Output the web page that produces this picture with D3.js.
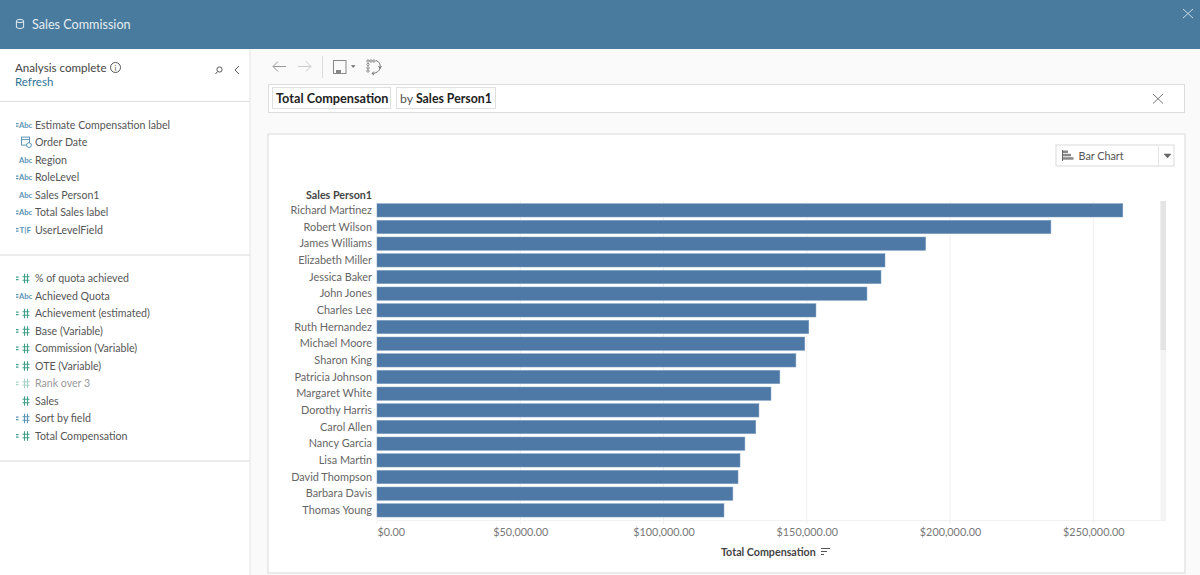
<!DOCTYPE html>
<html><head><meta charset="utf-8">
<script src="https://cdn.jsdelivr.net/npm/d3@7/dist/d3.min.js"></script>
<style>html,body{margin:0;padding:0;background:#fafafa;overflow:hidden}svg{display:block}text{font-family:Lato,"Open Sans",sans-serif}</style>
</head><body><svg id="c" width="1200" height="575"></svg>
<script>
const people=["Richard Martinez","Robert Wilson","James Williams","Elizabeth Miller","Jessica Baker","John Jones","Charles Lee","Ruth Hernandez","Michael Moore","Sharon King","Patricia Johnson","Margaret White","Dorothy Harris","Carol Allen","Nancy Garcia","Lisa Martin","David Thompson","Barbara Davis","Thomas Young"];
const compensation=[260300,235200,191500,177300,175900,171000,153200,150700,149300,146200,140600,137500,133300,132200,128400,126700,126000,124200,121100];
const ticks=[0,50000,100000,150000,200000,250000];
const dimensionFields=["Estimate Compensation label","Order Date","Region","RoleLevel","Sales Person1","Total Sales label","UserLevelField"];
const dimensionIcons=["=Abc","date","Abc","=Abc","Abc","=Abc","=T|F"];
const measureFields=["% of quota achieved","Achieved Quota","Achievement (estimated)","Base (Variable)","Commission (Variable)","OTE (Variable)","Rank over 3","Sales","Sort by field","Total Compensation"];
const measureIcons=["=#","=Abc","=#","=#","=#","=#","=#","#","=b#","=#"];

const svg=d3.select("#c");
const R=(x,y,w,h,f,s)=>svg.append("rect").attr("x",x).attr("y",y).attr("width",w).attr("height",h).attr("fill",f).attr("stroke",s||"none");
const T=(x,y,t,size,fill,weight,anchor)=>svg.append("text").attr("x",x).attr("y",y).text(t).attr("font-size",size).attr("fill",fill).attr("font-weight",weight||400).attr("text-anchor",anchor||"start");
const P=(d,s,w,f)=>svg.append("path").attr("d",d).attr("stroke",s).attr("stroke-width",w||1).attr("fill",f||"none");

// page frame
R(0,0,1200,575,"#fafafa");
R(0,0,1200,49,"#487b9d");
R(0,49,250,526,"#ffffff");
P("M250 49V575","#e4e4e4");
P("M0 101.5H250","#e0e0e0");
P("M0 255H250","#e6e6e6",1.5);
P("M0 461H250","#e6e6e6",1.5);

// header
T(32,28.5,"Sales Commission",12.6,"#e6eef3");
svg.append("ellipse").attr("cx",20).attr("cy",21).attr("rx",3.6).attr("ry",1.6).attr("fill","none").attr("stroke","#e6eef3");
P("M16.4 21V27.5Q20 30 23.6 27.5V21","#e6eef3");
P("M1183 9L1193 18M1193 9L1183 18","#c9dbe6");

// side panel
T(15,72,"Analysis complete",11.6,"#444");
svg.append("circle").attr("cx",115.5).attr("cy",67.5).attr("r",5).attr("fill","none").attr("stroke","#555");
T(115.5,70.5,"i",8,"#555",400,"middle");
T(15,86,"Refresh",11.5,"#2e7397");
svg.append("circle").attr("cx",219.5).attr("cy",69.5).attr("r",2.6).attr("fill","none").attr("stroke","#555");
P("M217.5 71.5L215.5 74","#555");
P("M239 66L235 70L239 74","#555");

function fieldIcon(kind,y,faded){
  const blue=faded?"#a9c6d6":"#5b93b5", green=faded?"#a5d3c8":"#3f9f8a";
  if(kind==="date"){
    R(21.5,y-5,8,8,"none","#5b93b5"); P(`M21.5 ${y-2.5}H29.5`,"#5b93b5");
    svg.append("circle").attr("cx",29).attr("cy",y+3).attr("r",2.4).attr("fill","#fff").attr("stroke","#5b93b5");
    return;
  }
  const calc=kind[0]==="=", bl=kind[1]==="b", core=kind.replace(/^=b?/,"");
  const mc=bl?blue:green;
  if(calc) P(`M16 ${y-1}H18.5M16 ${y+1.5}H18.5`,core==="#"?mc:blue,1.2);
  if(core==="#"){
    const a=22.5,b=29.5,m=y;
    P(`M${a} ${m-1.5}H${b}M${a} ${m+2}H${b}M${a+2} ${m-4.5}L${a+2} ${m+5}M${b-2} ${m-4.5}L${b-2} ${m+5}`,mc,1.1);
  }
  else if(core==="T|F") T(19.5,y+3,"T|F",8,blue,700);
  else T(19,y+3,"Abc",7.6,blue,700);
}
dimensionFields.forEach((f,i)=>{
  const yy=124.6+i*17.5;
  fieldIcon(dimensionIcons[i],yy);
  T(35,yy+4,f,10.6,"#555");
});
measureFields.forEach((f,i)=>{
  const yy=278.2+i*17.5, faded=f==="Rank over 3";
  fieldIcon(measureIcons[i],yy,faded);
  T(35,yy+4,f,10.6,faded?"#999":"#555");
});

// toolbar
P("M286 66.5H273M278 61.5L273 66.5L278 71.5","#999");
P("M298 66.5H311M306 61.5L311 66.5L306 71.5","#ccc");
P("M322.5 56V78","#ddd");
R(333.5,60.5,12.5,13,"none","#888");
R(336,70,5,3.5,"#888");
P("M351.5 65.5H355L353.2 67.5Z","#666",.5,"#666");
svg.append("g").selectAll("circle").data([[368,61],[371,61],[374,61],[368,64.5],[368,68],[368,71]]).join("circle")
  .attr("cx",d=>d[0]).attr("cy",d=>d[1]).attr("r",1.2).attr("fill","none").attr("stroke","#777").attr("stroke-width",.8);
P("M376 60.5Q381 62 380 68Q379 73 372 73.5M378.5 66L380 68.5L381.5 66M374 71.5L372 73.5L374 75","#777");

// question bar
R(268.5,84.5,916,28,"#fff","#dcdcdc");
R(272.5,87.5,118,21,"#fff","#dfdfdf");
T(276,102.5,"Total Compensation",12.7,"#222",700);
R(396.5,87.5,99,21,"#fff","#dfdfdf");
const q=T(400,102.5,"by ",12.3,"#555");
q.append("tspan").text("Sales Person1").attr("font-weight",700).attr("fill","#222");
P("M1153 94L1163 103.5M1163 94L1153 103.5","#777");

// chart card
R(268,134,917,439,"#fff","#d9d9d9");
R(1056,145,118,21,"#fff","#d9d9d9");
P("M1158.5 146V166","#e4e4e4");
T(1078.5,159.5,"Bar Chart",10.8,"#555");
P("M1062.5 150V161","#666");
R(1063,150.5,5,2.5,"#888");R(1063,153.8,8,2.5,"#888");R(1063,157.2,10.5,2.5,"#888");
P("M1164 154H1171L1167.5 158Z","#666",.5,"#666");

// bars
const x=d3.scaleLinear().domain([0,250000]).range([377,1093.3]);
const y=d3.scaleBand().domain(people).range([202,518.7]).paddingInner(0.2).paddingOuter(0.1);
R(1160.5,201,5.5,319,"#f4f4f4");
R(1160.5,201,5.5,149,"#e4e4e4");
svg.append("g").selectAll("line").data(ticks).join("line")
  .attr("x1",d=>x(d)).attr("x2",d=>x(d)).attr("y1",201).attr("y2",524).attr("stroke","#f0f0f0");
P("M377 520.5H1166","#f2f2f2");
svg.append("g").selectAll("rect").data(people).join("rect")
  .attr("x",x(0)).attr("y",d=>y(d)).attr("width",(d,i)=>x(compensation[i])-x(0)).attr("height",y.bandwidth())
  .attr("fill","#4e79a7").attr("stroke","#7d9dbf").attr("stroke-width",.5);

const yAxis=svg.append("g").attr("transform","translate(377,0)").call(d3.axisLeft(y).tickSize(0).tickPadding(5));
yAxis.select(".domain").remove();
yAxis.selectAll("text").attr("font-size",10.9).attr("fill","#666").style("font-family","Lato,sans-serif");
const xAxis=svg.append("g").attr("transform","translate(0,524)").call(d3.axisBottom(x).tickValues(ticks).tickSize(0).tickPadding(4).tickFormat(d3.format("$,.2f")));
xAxis.select(".domain").remove();
xAxis.selectAll("text").attr("font-size",10.8).attr("fill","#777").style("font-family","Lato,sans-serif")
  .filter(d=>d===0).attr("text-anchor","start").attr("dx",0);
T(372,199,"Sales Person1",10.7,"#444",700,"end");
T(721,556,"Total Compensation",10.7,"#444",700);
P("M821 548.5H830M821 551.5H827M821 554.5H824","#555");
</script></body></html>
